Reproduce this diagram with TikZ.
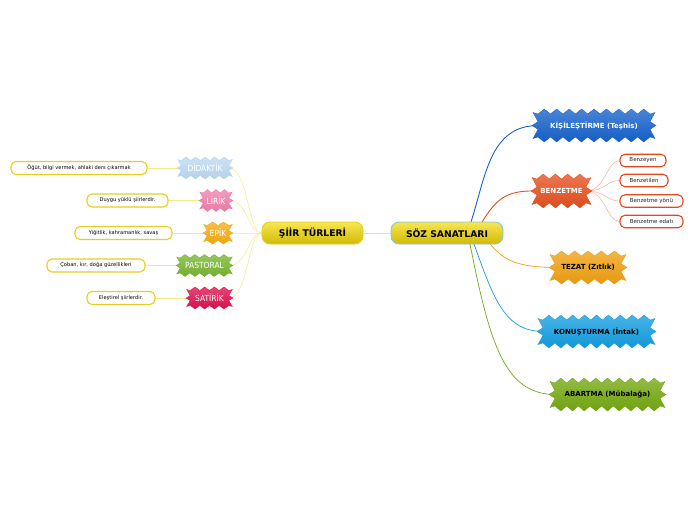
\documentclass[tikz,border=0pt]{standalone}
\usepackage{fontspec}
\setmainfont{DejaVu Sans}
\newfontfamily\condfont{DejaVu Sans Condensed}
\usetikzlibrary{calc}
\pgfdeclarelayer{bg}
\pgfsetlayers{bg,main}
\definecolor{kisC}{HTML}{1562CC}
\definecolor{benC}{HTML}{E4501E}
\definecolor{tezC}{HTML}{F0A010}
\definecolor{konC}{HTML}{129EE0}
\definecolor{abaC}{HTML}{74A810}
\definecolor{yelL}{HTML}{F2E36A}
\definecolor{leafY}{HTML}{E6CF1E}
\definecolor{didC}{HTML}{BCDAF2}
\definecolor{lirC}{HTML}{F080AC}
\definecolor{epiC}{HTML}{F8AC10}
\definecolor{pasC}{HTML}{78B630}
\definecolor{satC}{HTML}{E0104E}
\definecolor{rootTop}{HTML}{F6E652}
\definecolor{rootBot}{HTML}{D2BA06}
% spiky shape: cx cy a b h n colour
\newcommand\spiky[7]{%
  \pgfmathsetmacro\sps{2*#3/#6}%
  \path[top color=#7!78!white, bottom color=#7!96!black, draw=#7!96!black, line width=0.3pt]
   (#1-#3, #2-#4)
   \foreach \i in {1,...,#6} { -- (#1-#3+\i*\sps-0.5*\sps, #2-#4-#5) -- (#1-#3+\i*\sps, #2-#4) }
   -- (#1+#3+#5, #2-#4-0.3*#5) -- (#1+#3, #2-0.33*#4) -- (#1+#3+1.2*#5, #2) -- (#1+#3, #2+0.33*#4)
   -- (#1+#3+#5, #2+#4+0.3*#5) -- (#1+#3, #2+#4)
   \foreach \i in {1,...,#6} { -- (#1+#3-\i*\sps+0.5*\sps, #2+#4+#5) -- (#1+#3-\i*\sps, #2+#4) }
   -- (#1-#3-#5, #2+#4+0.3*#5) -- (#1-#3, #2+0.33*#4) -- (#1-#3-1.2*#5, #2) -- (#1-#3, #2-0.33*#4)
   -- (#1-#3-#5, #2-#4-0.3*#5) -- cycle;
}
\tikzset{
  x=1pt,y=-1pt,
  rootbox/.style={rounded corners=8pt, line width=0.9pt, top color=rootTop, bottom color=rootBot,
    minimum width=#1, minimum height=22pt, inner sep=0pt, font=\fontsize{9.2}{11}\selectfont\bfseries},
  rchild/.style={inner sep=0pt, font=\fontsize{7}{8}\selectfont\bfseries},
  lchild/.style={inner sep=0pt, font=\condfont\fontsize{8.4}{10}\selectfont, text=white},
  lleaf/.style={draw=leafY, line width=1.1pt, rounded corners=5pt, fill=white, minimum height=13pt, inner sep=0pt,
    font=\fontsize{5.1}{6}\selectfont, text=black},
  bleaf/.style={draw=benC!90!red, line width=1.1pt, rounded corners=5pt, fill=white, minimum height=12.5pt, inner sep=0pt,
    font=\fontsize{5.5}{6.5}\selectfont, text=black!85},
  lcon/.style={draw=yelL!80!white, line width=0.5pt},
}
\begin{document}
\begin{tikzpicture}
\useasboundingbox (0,0) rectangle (696,520);
\coordinate (sKis) at (471,222);
\coordinate (sBen) at (482,222);
\coordinate (sTez) at (490,244);
\coordinate (sKon) at (474,244);
\coordinate (sAba) at (470,244);
% root nodes
\node[rootbox=112pt, draw=konC!55!white] (soz) at (447,233) {SÖZ SANATLARI};
\node[rootbox=101pt, draw=leafY] (siir) at (312.5,233) {ŞİİR TÜRLERİ};
% right children
\spiky{594}{125.5}{56}{11.5}{5}{9}{kisC}
\node[rchild, text=white, minimum width=112pt, minimum height=23pt] (kis) at (594,125.5) {KİŞİLEŞTİRME (Teşhis)};
\spiky{561.5}{191}{24.5}{12}{5}{4}{benC}
\node[rchild, text=white, minimum width=49pt, minimum height=24pt] (ben) at (561.5,191) {BENZETME};
\spiky{588}{267.5}{33}{11.5}{5}{5}{tezC}
\node[rchild, text=black, minimum width=66pt, minimum height=23pt] (tez) at (588,267.5) {TEZAT (Zıtlık)};
\spiky{596.5}{331.5}{53.5}{11.5}{5}{9}{konC}
\node[rchild, text=black, minimum width=107pt, minimum height=23pt] (kon) at (596.5,331.5) {KONUŞTURMA (İntak)};
\spiky{607.5}{394.5}{52.5}{11.5}{5}{9}{abaC}
\node[rchild, text=black, minimum width=105pt, minimum height=23pt] (aba) at (607.5,394.5) {ABARTMA (Mübalağa)};
% benzetme leaves
\node[bleaf, minimum width=46pt] (b1) at (643,160.5) {Benzeyen};
\node[bleaf, minimum width=48pt] (b2) at (644,180.5) {Benzetilen};
\node[bleaf, minimum width=63pt] (b3) at (651.5,201) {Benzetme yönü};
\node[bleaf, minimum width=63pt] (b4) at (651.5,221.5) {Benzetme edatı};
% left children
\spiky{205}{168}{23.8}{7.5}{3.5}{5}{didC}
\node[lchild, minimum width=47.6pt, minimum height=15pt] (did) at (205,168) {DİDAKTİK};
\spiky{216}{200.5}{12.8}{7.5}{3.5}{3}{lirC}
\node[lchild, minimum width=25.6pt, minimum height=15pt] (lir) at (216,200.5) {LİRİK};
\spiky{218}{233}{10.8}{7.5}{3.5}{2}{epiC}
\node[lchild, minimum width=21.6pt, minimum height=15pt] (epi) at (218,233) {EPİK};
\spiky{204.5}{265.5}{24.3}{7.5}{3.5}{5}{pasC}
\node[lchild, minimum width=48.6pt, minimum height=15pt] (pas) at (204.5,265.5) {PASTORAL};
\spiky{209.5}{298}{19.3}{7.5}{3.5}{4}{satC}
\node[lchild, minimum width=38.6pt, minimum height=15pt] (sat) at (209.5,298) {SATİRİK};
% left leaves
\node[lleaf, minimum width=136pt] (l1) at (79,168) {Öğüt, bilgi vermek, ahlaki ders çıkarmak};
\node[lleaf, minimum width=81pt] (l2) at (127.5,200.5) {Duygu yüklü şiirlerdir.};
\node[lleaf, minimum width=97pt] (l3) at (123.5,233) {Yiğitlik, kahramanlık, savaş};
\node[lleaf, minimum width=98pt] (l4) at (96,265.5) {Çoban, kır, doğa güzellikleri};
\node[lleaf, minimum width=68pt] (l5) at (121,298) {Eleştirel şiirlerdir.};
% connectors
\begin{pgfonlayer}{bg}
\draw[draw=kisC, line width=0.9pt] (sKis) .. controls (486,175) and (490,126) .. (kis.west);
\draw[draw=benC, line width=0.9pt] (sBen) .. controls (496,200) and (505,190) .. (ben.west);
\draw[draw=tezC, line width=0.7pt] (sTez) .. controls (505,262) and (520,267) .. (tez.west);
\draw[draw=konC, line width=0.7pt] (sKon) .. controls (494,300) and (505,331) .. (kon.west);
\draw[draw=abaC, line width=0.7pt] (sAba) .. controls (490,345) and (505,394) .. (aba.west);
\draw[draw=yelL, line width=0.6pt] (siir.east) -- (soz.west);
\foreach \b in {b1,b2,b3,b4}
  \draw[draw=benC!45!white, line width=0.5pt] (ben.east) .. controls (605,191) and (607,191 |- \b.west) .. (\b.west);
\foreach \c in {did,lir,epi,pas,sat}
  \draw[lcon] (siir.west) .. controls (248,233) and (248,0 |- \c.east) .. (\c.east);
\draw[lcon] (did.west) -- (l1.east);
\draw[lcon] (lir.west) -- (l2.east);
\draw[lcon] (epi.west) -- (l3.east);
\draw[lcon] (pas.west) -- (l4.east);
\draw[lcon] (sat.west) -- (l5.east);
\end{pgfonlayer}
\end{tikzpicture}
\end{document}
